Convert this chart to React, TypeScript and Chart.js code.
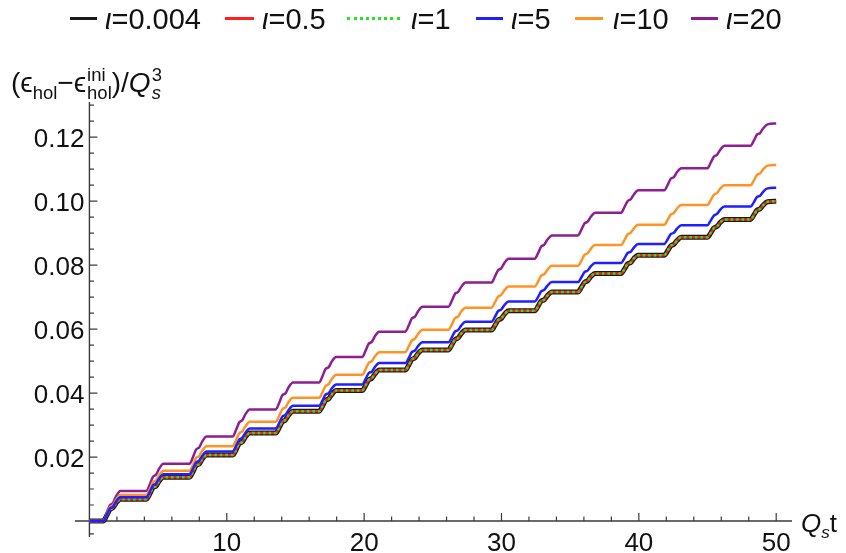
import React, { useEffect, useRef } from 'react';
import { Chart, registerables } from 'chart.js';

Chart.register(...registerables);

const FONT = '"Liberation Sans", Arial, Helvetica, sans-serif';

// Shared time grid (Q_s t)
const X_VALUES = [
  0, 1.0, 1.26, 1.48, 1.71, 1.94,
  2.25, 4.15, 4.40, 4.62, 4.85, 5.08,
  5.39, 7.29, 7.54, 7.76, 7.99, 8.22,
  8.53, 10.43, 10.68, 10.90, 11.13, 11.36,
  11.67, 13.57, 13.82, 14.04, 14.27, 14.50,
  14.82, 16.72, 16.97, 17.19, 17.42, 17.65,
  17.96, 19.86, 20.11, 20.33, 20.56, 20.79,
  21.10, 23.00, 23.25, 23.47, 23.70, 23.93,
  24.24, 26.14, 26.39, 26.61, 26.84, 27.07,
  27.38, 29.28, 29.53, 29.75, 29.98, 30.21,
  30.52, 32.42, 32.67, 32.89, 33.12, 33.35,
  33.67, 35.57, 35.82, 36.04, 36.27, 36.50,
  36.81, 38.71, 38.96, 39.18, 39.41, 39.64,
  39.95, 41.85, 42.10, 42.32, 42.55, 42.78,
  43.09, 44.99, 45.24, 45.46, 45.69, 45.92,
  46.23, 48.13, 48.38, 48.60, 48.83, 49.06,
  49.37, 50,
];

const IOTA_0004 = [
  0, 0, 0.0017, 0.0035, 0.0041, 0.0056,
  0.0068, 0.0068, 0.0085, 0.0104, 0.0109, 0.0125,
  0.0137, 0.0137, 0.0154, 0.0173, 0.0178, 0.0194,
  0.0206, 0.0206, 0.0223, 0.0242, 0.0247, 0.0263,
  0.0275, 0.0275, 0.0292, 0.0310, 0.0316, 0.0331,
  0.0343, 0.0343, 0.0359, 0.0377, 0.0382, 0.0396,
  0.0408, 0.0408, 0.0424, 0.0441, 0.0446, 0.0460,
  0.0472, 0.0472, 0.0488, 0.0505, 0.0510, 0.0524,
  0.0535, 0.0535, 0.0551, 0.0567, 0.0572, 0.0586,
  0.0597, 0.0597, 0.0612, 0.0628, 0.0633, 0.0646,
  0.0657, 0.0657, 0.0672, 0.0688, 0.0692, 0.0705,
  0.0716, 0.0716, 0.0731, 0.0746, 0.0751, 0.0764,
  0.0774, 0.0774, 0.0788, 0.0804, 0.0808, 0.0821,
  0.0831, 0.0831, 0.0845, 0.0860, 0.0865, 0.0877,
  0.0887, 0.0887, 0.0901, 0.0916, 0.0921, 0.0933,
  0.0943, 0.0943, 0.0957, 0.0972, 0.0976, 0.0988,
  0.0998, 0.1000,
];

// ι=0.5 and ι=1 lie exactly on top of ι=0.004 in the figure
const IOTA_05 = [
  0, 0, 0.0017, 0.0035, 0.0041, 0.0056,
  0.0068, 0.0068, 0.0085, 0.0104, 0.0109, 0.0125,
  0.0137, 0.0137, 0.0154, 0.0173, 0.0178, 0.0194,
  0.0206, 0.0206, 0.0223, 0.0242, 0.0247, 0.0263,
  0.0275, 0.0275, 0.0292, 0.0310, 0.0316, 0.0331,
  0.0343, 0.0343, 0.0359, 0.0377, 0.0382, 0.0396,
  0.0408, 0.0408, 0.0424, 0.0441, 0.0446, 0.0460,
  0.0472, 0.0472, 0.0488, 0.0505, 0.0510, 0.0524,
  0.0535, 0.0535, 0.0551, 0.0567, 0.0572, 0.0586,
  0.0597, 0.0597, 0.0612, 0.0628, 0.0633, 0.0646,
  0.0657, 0.0657, 0.0672, 0.0688, 0.0692, 0.0705,
  0.0716, 0.0716, 0.0731, 0.0746, 0.0751, 0.0764,
  0.0774, 0.0774, 0.0788, 0.0804, 0.0808, 0.0821,
  0.0831, 0.0831, 0.0845, 0.0860, 0.0865, 0.0877,
  0.0887, 0.0887, 0.0901, 0.0916, 0.0921, 0.0933,
  0.0943, 0.0943, 0.0957, 0.0972, 0.0976, 0.0988,
  0.0998, 0.1000,
];

const IOTA_1 = [
  0, 0, 0.0017, 0.0035, 0.0041, 0.0056,
  0.0068, 0.0068, 0.0085, 0.0104, 0.0109, 0.0125,
  0.0137, 0.0137, 0.0154, 0.0173, 0.0178, 0.0194,
  0.0206, 0.0206, 0.0223, 0.0242, 0.0247, 0.0263,
  0.0275, 0.0275, 0.0292, 0.0310, 0.0316, 0.0331,
  0.0343, 0.0343, 0.0359, 0.0377, 0.0382, 0.0396,
  0.0408, 0.0408, 0.0424, 0.0441, 0.0446, 0.0460,
  0.0472, 0.0472, 0.0488, 0.0505, 0.0510, 0.0524,
  0.0535, 0.0535, 0.0551, 0.0567, 0.0572, 0.0586,
  0.0597, 0.0597, 0.0612, 0.0628, 0.0633, 0.0646,
  0.0657, 0.0657, 0.0672, 0.0688, 0.0692, 0.0705,
  0.0716, 0.0716, 0.0731, 0.0746, 0.0751, 0.0764,
  0.0774, 0.0774, 0.0788, 0.0804, 0.0808, 0.0821,
  0.0831, 0.0831, 0.0845, 0.0860, 0.0865, 0.0877,
  0.0887, 0.0887, 0.0901, 0.0916, 0.0921, 0.0933,
  0.0943, 0.0943, 0.0957, 0.0972, 0.0976, 0.0988,
  0.0998, 0.1000,
];

const IOTA_5 = [
  0, 0, 0.0019, 0.0038, 0.0044, 0.0061,
  0.0074, 0.0074, 0.0092, 0.0111, 0.0117, 0.0133,
  0.0146, 0.0146, 0.0164, 0.0183, 0.0189, 0.0204,
  0.0217, 0.0217, 0.0235, 0.0254, 0.0260, 0.0276,
  0.0289, 0.0289, 0.0307, 0.0326, 0.0332, 0.0347,
  0.0360, 0.0360, 0.0377, 0.0395, 0.0400, 0.0415,
  0.0427, 0.0427, 0.0444, 0.0462, 0.0467, 0.0482,
  0.0494, 0.0494, 0.0510, 0.0528, 0.0533, 0.0547,
  0.0559, 0.0559, 0.0575, 0.0592, 0.0597, 0.0611,
  0.0623, 0.0623, 0.0639, 0.0656, 0.0661, 0.0675,
  0.0686, 0.0686, 0.0701, 0.0718, 0.0723, 0.0736,
  0.0747, 0.0747, 0.0762, 0.0778, 0.0783, 0.0796,
  0.0807, 0.0807, 0.0822, 0.0838, 0.0842, 0.0855,
  0.0866, 0.0866, 0.0881, 0.0897, 0.0901, 0.0914,
  0.0925, 0.0925, 0.0940, 0.0955, 0.0960, 0.0973,
  0.0983, 0.0983, 0.0997, 0.1013, 0.1017, 0.1030,
  0.1040, 0.1042,
];

const IOTA_10 = [
  0, 0, 0.0020, 0.0042, 0.0049, 0.0066,
  0.0081, 0.0081, 0.0100, 0.0121, 0.0127, 0.0143,
  0.0157, 0.0157, 0.0176, 0.0197, 0.0203, 0.0220,
  0.0234, 0.0234, 0.0253, 0.0274, 0.0280, 0.0296,
  0.0310, 0.0310, 0.0329, 0.0349, 0.0355, 0.0372,
  0.0385, 0.0385, 0.0403, 0.0422, 0.0428, 0.0444,
  0.0457, 0.0457, 0.0475, 0.0494, 0.0500, 0.0515,
  0.0528, 0.0528, 0.0546, 0.0564, 0.0570, 0.0585,
  0.0598, 0.0598, 0.0615, 0.0634, 0.0639, 0.0655,
  0.0667, 0.0667, 0.0684, 0.0701, 0.0707, 0.0721,
  0.0733, 0.0733, 0.0749, 0.0767, 0.0772, 0.0786,
  0.0798, 0.0798, 0.0814, 0.0832, 0.0837, 0.0851,
  0.0863, 0.0863, 0.0879, 0.0896, 0.0901, 0.0915,
  0.0926, 0.0926, 0.0942, 0.0958, 0.0963, 0.0977,
  0.0988, 0.0988, 0.1004, 0.1020, 0.1025, 0.1039,
  0.1050, 0.1050, 0.1065, 0.1082, 0.1087, 0.1100,
  0.1111, 0.1113,
];

const IOTA_20 = [
  0, 0, 0.0024, 0.0049, 0.0056, 0.0077,
  0.0094, 0.0094, 0.0115, 0.0138, 0.0145, 0.0164,
  0.0179, 0.0179, 0.0200, 0.0223, 0.0230, 0.0249,
  0.0264, 0.0264, 0.0285, 0.0308, 0.0315, 0.0334,
  0.0349, 0.0349, 0.0370, 0.0393, 0.0399, 0.0418,
  0.0433, 0.0433, 0.0453, 0.0475, 0.0481, 0.0499,
  0.0513, 0.0513, 0.0533, 0.0554, 0.0560, 0.0578,
  0.0592, 0.0592, 0.0612, 0.0633, 0.0639, 0.0656,
  0.0670, 0.0670, 0.0689, 0.0710, 0.0716, 0.0732,
  0.0746, 0.0746, 0.0765, 0.0784, 0.0790, 0.0807,
  0.0820, 0.0820, 0.0838, 0.0858, 0.0864, 0.0880,
  0.0893, 0.0893, 0.0911, 0.0930, 0.0936, 0.0951,
  0.0964, 0.0964, 0.0982, 0.1000, 0.1006, 0.1021,
  0.1034, 0.1034, 0.1051, 0.1070, 0.1075, 0.1091,
  0.1103, 0.1103, 0.1121, 0.1139, 0.1145, 0.1160,
  0.1173, 0.1173, 0.1190, 0.1208, 0.1213, 0.1228,
  0.1240, 0.1243,
];

const X_MAJOR_TICKS = [10, 20, 30, 40, 50];
const X_TICK_LABELS = ['10', '20', '30', '40', '50'];
const Y_MAJOR_TICKS = [0.02, 0.04, 0.06, 0.08, 0.10, 0.12];
const Y_TICK_LABELS = ['0.02', '0.04', '0.06', '0.08', '0.10', '0.12'];

type Series = {
  key: string;
  value: string;
  values: number[];
  color: string;
  width: number;
  dash: number[];
  order: number;
  swatchLeft: number;
  swatch: number;
  textLeft: number;
};

const SERIES: Series[] = [
  { key: 'a', value: '0.004', values: IOTA_0004, color: '#1a1a1a', width: 5, dash: [], order: 5, swatchLeft: 70, swatch: 27, textLeft: 105 },
  { key: 'b', value: '0.5', values: IOTA_05, color: '#ff1f1f', width: 2.5, dash: [], order: 4, swatchLeft: 225, swatch: 29, textLeft: 262 },
  { key: 'c', value: '1', values: IOTA_1, color: '#22e622', width: 2.5, dash: [2.5, 3], order: 3, swatchLeft: 347, swatch: 53, textLeft: 411 },
  { key: 'd', value: '5', values: IOTA_5, color: '#1f1fff', width: 2.5, dash: [], order: 2, swatchLeft: 476, swatch: 27, textLeft: 511 },
  { key: 'e', value: '10', values: IOTA_10, color: '#ff9326', width: 2.5, dash: [], order: 2, swatchLeft: 575, swatch: 28, textLeft: 613 },
  { key: 'f', value: '20', values: IOTA_20, color: '#8c1f91', width: 2.5, dash: [], order: 2, swatchLeft: 691, swatch: 27, textLeft: 726 },
];

const axesPlugin = {
  id: 'mmaAxes',
  beforeDatasetsDraw(chart: any) {
    const { ctx, chartArea, scales } = chart;
    const xs = scales.x;
    const ys = scales.y;
    const x0 = xs.getPixelForValue(0);
    const y0 = ys.getPixelForValue(0);
    ctx.save();
    ctx.strokeStyle = '#3a3a3a';
    ctx.lineWidth = 1.4;
    ctx.beginPath();
    ctx.moveTo(chartArea.left, y0);
    ctx.lineTo(chartArea.right, y0);
    ctx.moveTo(x0, chartArea.top);
    ctx.lineTo(x0, chartArea.bottom);
    ctx.stroke();

    ctx.lineWidth = 1.2;
    ctx.beginPath();
    for (let v = 2; v <= 50; v += 2) {
      const px = xs.getPixelForValue(v);
      const len = v % 10 === 0 ? 8 : 4.5;
      ctx.moveTo(px, y0);
      ctx.lineTo(px, y0 - len);
    }
    for (let i = 1; i <= 26; i++) {
      const v = i * 0.005;
      const py = ys.getPixelForValue(v);
      const len = i % 4 === 0 ? 8 : 4.5;
      ctx.moveTo(x0, py);
      ctx.lineTo(x0 + len, py);
    }
    const pyNeg = ys.getPixelForValue(-0.004);
    ctx.moveTo(x0, pyNeg);
    ctx.lineTo(x0 + 4.5, pyNeg);
    ctx.stroke();

    ctx.fillStyle = '#111';
    ctx.font = `26px ${FONT}`;
    ctx.textAlign = 'center';
    ctx.textBaseline = 'alphabetic';
    X_MAJOR_TICKS.forEach((v, i) => {
      ctx.fillText(X_TICK_LABELS[i], xs.getPixelForValue(v), y0 + 30);
    });
    ctx.textAlign = 'right';
    Y_MAJOR_TICKS.forEach((v, i) => {
      ctx.fillText(Y_TICK_LABELS[i], x0 - 5, ys.getPixelForValue(v) + 9.5);
    });
    ctx.restore();
  },
};

const sub = (t: string, italic = false) => (
  <span style={{ fontSize: '0.66em', position: 'relative', top: '0.36em', fontStyle: italic ? 'italic' : 'normal' }}>{t}</span>
);

const stack = (sup: string, subT: string, italic = false) => (
  <span
    style={{
      display: 'inline-flex',
      flexDirection: 'column',
      fontSize: '0.66em',
      lineHeight: 0.95,
      verticalAlign: '0.62em',
      marginLeft: 1,
    }}
  >
    <span>{sup}</span>
    <span style={{ fontStyle: italic ? 'italic' : 'normal' }}>{subT}</span>
  </span>
);

export default function App() {
  const canvasRef = useRef<HTMLCanvasElement | null>(null);

  useEffect(() => {
    document.body.style.margin = '0';
    const canvas = canvasRef.current;
    if (!canvas) return;
    const datasets = SERIES.map((s) => ({
      label: `ι=${s.value}`,
      data: X_VALUES.map((x, i) => ({ x, y: s.values[i] })),
      borderColor: s.color,
      backgroundColor: s.color,
      borderWidth: s.width,
      borderDash: s.dash,
      order: s.order,
      pointRadius: 0,
      fill: false,
      cubicInterpolationMode: 'monotone' as const,
    }));
    const chart = new Chart(canvas, {
      type: 'line',
      data: { datasets },
      options: {
        animation: false,
        responsive: false,
        maintainAspectRatio: false,
        parsing: false as any,
        layout: { padding: { left: 75, right: 54, top: 102, bottom: 16 } },
        plugins: { legend: { display: false }, tooltip: { enabled: false } },
        scales: {
          x: { type: 'linear', min: -1.05, max: 51.15, display: false },
          y: { type: 'linear', min: -0.005, max: 0.131, display: false },
        },
      },
      plugins: [axesPlugin],
    });
    return () => chart.destroy();
  }, []);

  return (
    <div style={{ position: 'fixed', left: 0, top: 0, width: 846, height: 553, background: '#fff', fontFamily: FONT, color: '#111' }}>
      <canvas ref={canvasRef} width={846} height={553} style={{ position: 'absolute', left: 0, top: 0, width: 846, height: 553 }} />
      {SERIES.map((s) => (
        <React.Fragment key={s.key}>
          <span
            style={{
              position: 'absolute',
              left: s.swatchLeft,
              top: 17,
              width: s.swatch,
              height: 0,
              borderTop: `3px ${s.dash.length ? 'dotted' : 'solid'} ${s.color}`,
            }}
          />
          <span
            style={{
              position: 'absolute',
              left: s.textLeft,
              top: 2,
              fontSize: 29,
              lineHeight: '34px',
              whiteSpace: 'nowrap',
            }}
          >
            <i>ι</i>={s.value}
          </span>
        </React.Fragment>
      ))}
      <div style={{ position: 'absolute', left: 11, top: 66, fontSize: 28, lineHeight: '30px', whiteSpace: 'nowrap' }}>
        (ϵ{sub('hol')}−ϵ{stack('ini', 'hol')})/<i>Q</i>{stack('3', 's', true)}
      </div>
      <div style={{ position: 'absolute', left: 801, top: 508, fontSize: 26, lineHeight: '30px', whiteSpace: 'nowrap' }}>
        <i>Q</i>{sub('s', true)}t
      </div>
    </div>
  );
}
